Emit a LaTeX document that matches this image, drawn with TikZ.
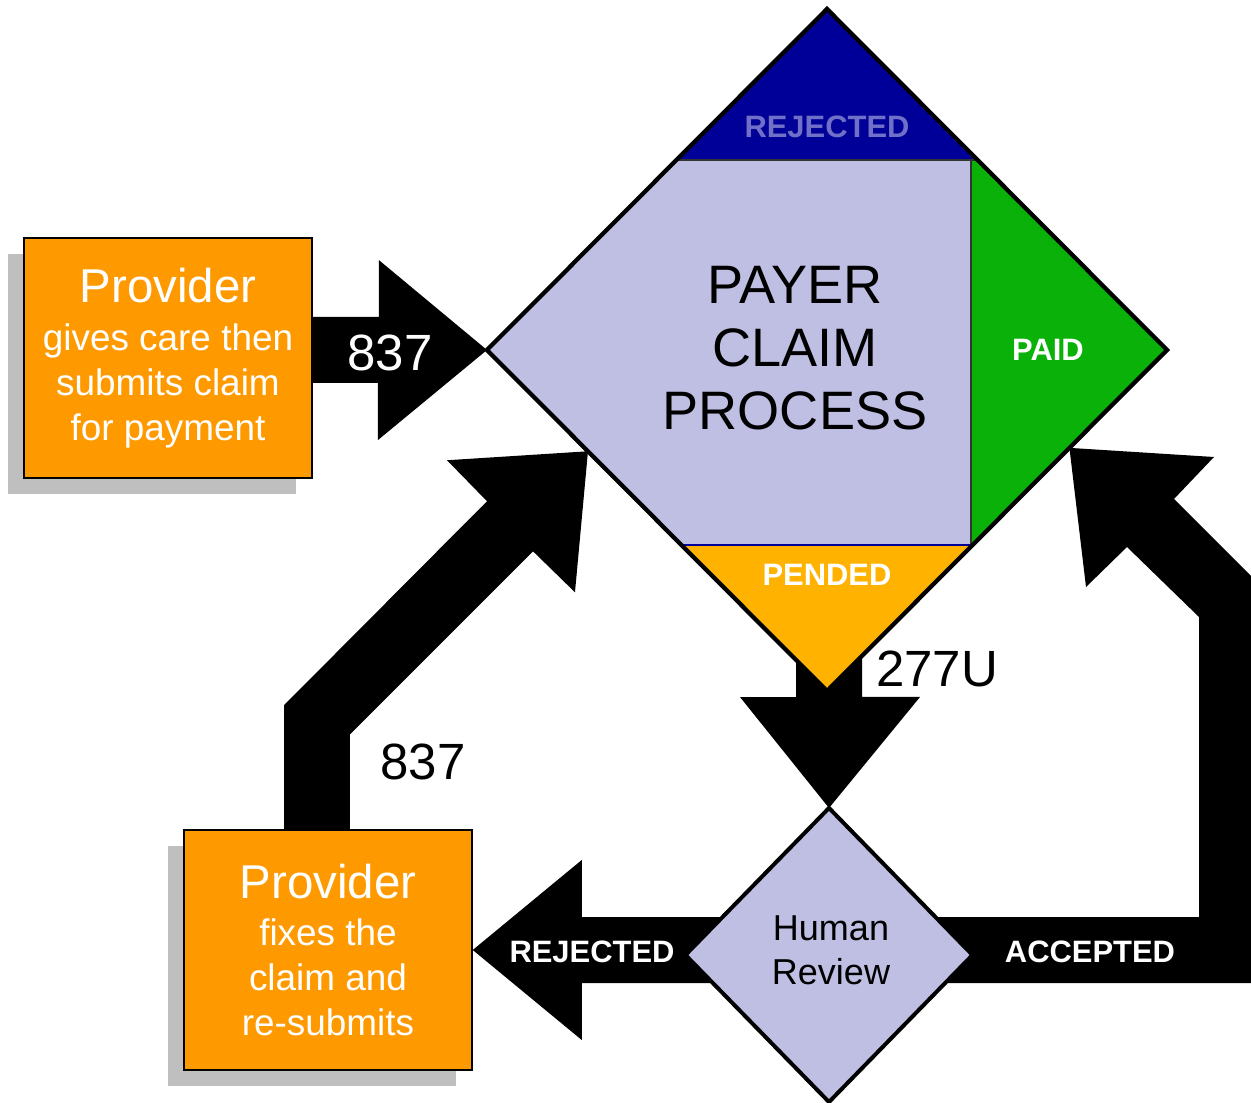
\documentclass[tikz,border=0pt]{standalone}
\usepackage{fontspec}
\setmainfont{Liberation Sans}
\usetikzlibrary{calc, shapes.geometric, shadows}

\definecolor{provorange}{RGB}{255,153,0}
\definecolor{shadowgray}{RGB}{191,191,191}
\definecolor{lavender}{RGB}{191,191,228}
\definecolor{rejblue}{RGB}{0,0,153}
\definecolor{rejtext}{RGB}{112,112,200}
\definecolor{paidgreen}{RGB}{9,177,9}
\definecolor{pendamber}{RGB}{255,179,0}

\pgfdeclarelayer{back}
\pgfsetlayers{back,main}

\begin{document}
\begin{tikzpicture}[x=0.2mm, y=-0.2mm,
	provider/.style = {draw, line width=0.3mm, fill=provorange, text=white, minimum width=57.6mm, minimum height=48mm, inner sep=0pt, align=center, font=\fontsize{21}{25.6}\selectfont, drop shadow={shadow xshift=-3.2mm, shadow yshift=-3.2mm, fill=shadowgray, opacity=1}},
	payer/.style = {diamond, fill=lavender, minimum width=136mm, minimum height=136.4mm, inner sep=0pt, outer sep=0pt},
	review/.style = {diamond, draw, line width=0.8mm, fill=lavender, minimum width=57.4mm, minimum height=58.8mm, inner sep=0pt, outer sep=0pt},
	flow/.style = {fill=black},
	state/.style = {font=\bfseries\fontsize{17.6}{20}\selectfont},
	code/.style = {font=\fontsize{29}{30}\selectfont}]
	\useasboundingbox (0,0) rectangle (1251,1103);

	\node[provider] (submit) at (168,358) {{\fontsize{27}{27}\selectfont Provider}\\[1.5pt] gives care then\\ submits claim\\ for payment};
	\node[provider] (resubmit) at (328,950) {{\fontsize{27}{27}\selectfont Provider}\\[1.5pt] fixes the\\ claim and\\ re-submits};
	\node[payer] (payer) at (827,350) {};
	\node[review] (review) at (829,955) {};
	\node[align=center, font=\fontsize{20.5}{25}\selectfont] (reviewtext) at (831,950) {Human\\Review};

	\begin{scope}
		\clip (payer.north) -- (payer.east) -- (payer.south) -- (payer.west) -- cycle;
		\fill[rejblue] (480,0) rectangle (1170,160);
		\fill[paidgreen] (971,160) rectangle (1170,545);
		\fill[pendamber] (480,545) rectangle (1170,700);
		\draw[line width=0.3mm, black!80] (480,160) -- (1170,160);
		\draw[line width=0.3mm, black!80] (971,160) -- (971,545);
		\draw[line width=0.4mm, rejblue] (480,545) -- (1170,545);
	\end{scope}
	\draw[line width=0.85mm] (payer.north) -- (payer.east) -- (payer.south) -- (payer.west) -- cycle;

	\node[font=\fontsize{30.8}{36}\selectfont, align=center] (title) at (795,348) {PAYER\\CLAIM\\PROCESS};
	\node[state, text=rejtext] (rejtop) at (827,127) {REJECTED};
	\node[state, text=white] (paid) at (1048,350) {PAID};
	\node[state, text=white] (pended) at (827,575) {PENDED};

	\begin{pgfonlayer}{back}
		\fill[flow] ($(submit.east |- payer.west)+(0,-33)$) -- ++(66,0) -- ++(0,-57) -- (payer.west) -- ++(-109,90) -- ++(0,-57) -- ($(submit.east |- payer.west)+(0,33)$) -- cycle;
		\fill[flow] ($(resubmit.north)+(-44,0)$) -- ++(0,-124) -- ++(203,-204) -- ++(-40,-41) -- ($(payer.west)!0.297!(payer.south)$) -- ++(-13,141) -- ++(-42,-41) -- ++(-183,183) -- ++(0,96) -- cycle;
		\fill[flow] ($(payer.south)+(-31,-40)$) -- ++(0,46) -- ++(-56,0) -- (review.north) -- ++(91,-111) -- ++(-58,0) -- ++(0,-46) -- cycle;
		\fill[flow] (resubmit.east) -- ++(109,-90) -- ++(0,57) -- ++(180,0) -- ++(0,66) -- ++(-180,0) -- ++(0,57) -- cycle;
		\fill[flow] ($(review.center)+(0,-38)$) -- (1199,917) -- (1199,617) -- (1127,547) -- (1086,587) -- ($(payer.east)!0.287!(payer.south)$) -- (1214,457) -- (1174,499) -- (1251,576) -- (1251,983) -- ($(review.center)+(0,28)$) -- cycle;
	\end{pgfonlayer}

	\node[code, text=white] (code837) at (390,353) {837};
	\node[code] (code837b) at (423,762) {837};
	\node[code, anchor=west] (code277) at (870,669) {277U};
	\node[state, text=white] (rejected) at (592,952) {REJECTED};
	\node[state, text=white] (accepted) at (1090,952) {ACCEPTED};
\end{tikzpicture}
\end{document}
